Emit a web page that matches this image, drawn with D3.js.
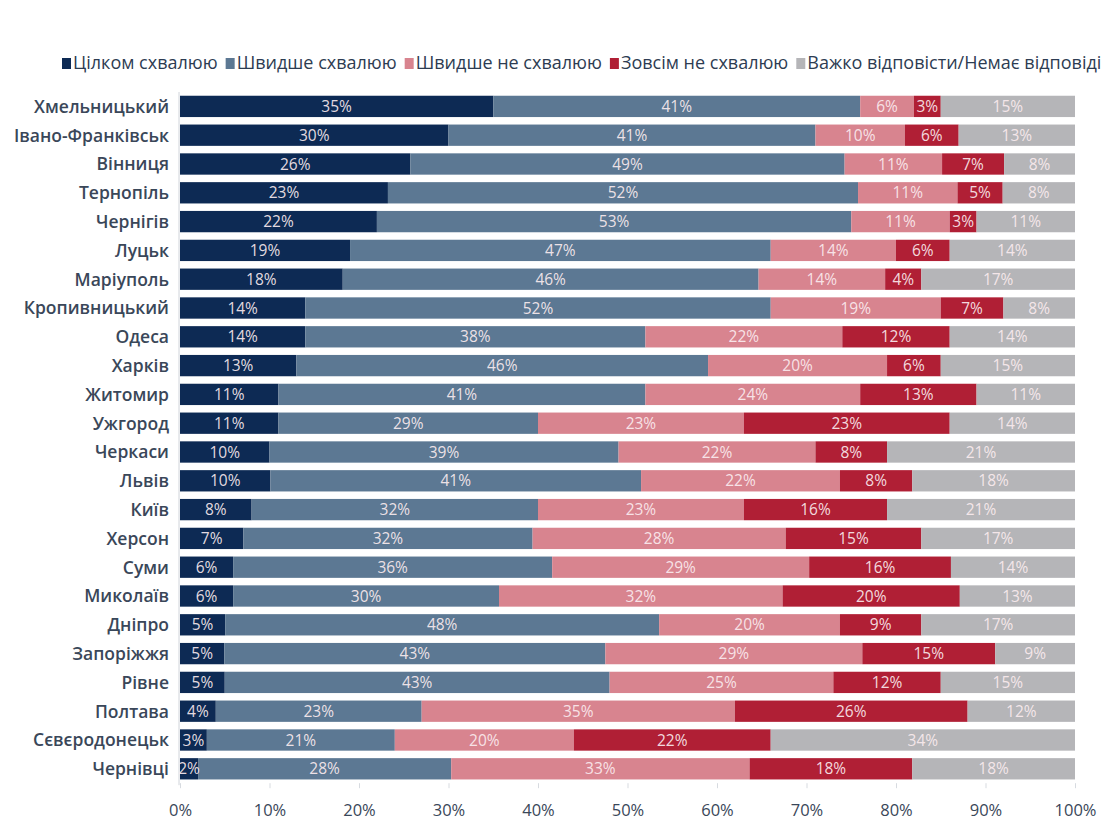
<!DOCTYPE html>
<html>
<head>
<meta charset="utf-8">
<script src="https://cdn.jsdelivr.net/npm/d3@7"></script>
<style>
  body { margin: 0; background: #fff; }
  svg { display: block; font-family: "Open Sans", sans-serif; }
</style>
</head>
<body>
<svg id="chart" width="1110" height="822"></svg>
<script>
// city approval stacked bars

const cities = ['Хмельницький', 'Івано-Франківськ', 'Вінниця', 'Тернопіль', 'Чернігів', 'Луцьк',
    'Маріуполь', 'Кропивницький', 'Одеса', 'Харків', 'Житомир', 'Ужгород', 'Черкаси', 'Львів',
    'Київ', 'Херсон', 'Суми', 'Миколаїв', 'Дніпро', 'Запоріжжя', 'Рівне', 'Полтава',
    'Сєвєродонецьк', 'Чернівці'];

const seriesNames = ['Цілком схвалюю', 'Швидше схвалюю', 'Швидше не схвалюю', 'Зовсім не схвалюю',
    'Важко відповісти/Немає відповіді'];

const fullyApprove = [35, 30, 26, 23, 22, 19, 18, 14, 14, 13, 11, 11, 10, 10, 8, 7, 6, 6, 5, 5, 5, 4, 3, 2];
const ratherApprove = [41, 41, 49, 52, 53, 47, 46, 52, 38, 46, 41, 29, 39, 41, 32, 32, 36, 30, 48, 43, 43, 23, 21, 28];
const ratherNot = [6, 10, 11, 11, 11, 14, 14, 19, 22, 20, 24, 23, 22, 22, 23, 28, 29, 32, 20, 29, 25, 35, 20, 33];
const notAtAll = [3, 6, 7, 5, 3, 6, 4, 7, 12, 6, 13, 23, 8, 8, 16, 15, 16, 20, 9, 15, 12, 26, 22, 18];
const hardToSay = [15, 13, 8, 8, 11, 14, 17, 8, 14, 15, 11, 14, 21, 18, 21, 17, 14, 13, 17, 9, 15, 12, 34, 18];

const xTicks = [0, 10, 20, 30, 40, 50, 60, 70, 80, 90, 100];

const colors = ['#0d2a54', '#5c7893', '#d8848f', '#b01f35', '#b5b5b8'];

(function () {
    const svg = d3.select('#chart');
    const margin = { top: 92, left: 180, right: 35, bottom: 40 };
    const plotW = 1075 - margin.left;
    const step = 28.8;
    const plotH = step * cities.length;

    const allSeries = [fullyApprove, ratherApprove, ratherNot, notAtAll, hardToSay];
    const rows = cities.map((c, i) => {
        const r = { city: c };
        seriesNames.forEach((s, k) => { r[s] = allSeries[k][i]; });
        return r;
    });

    const stacked = d3.stack().keys(seriesNames).offset(d3.stackOffsetExpand)(rows);

    const x = d3.scaleLinear().domain([0, 1]).range([margin.left, margin.left + plotW]);
    const y = d3.scaleBand().domain(cities).range([margin.top, margin.top + plotH]).paddingInner(0.26).paddingOuter(0.13);
    const color = d3.scaleOrdinal().domain(seriesNames).range(colors);

    // Legend
    const legend = svg.append('g').attr('transform', 'translate(62,63)');
    let lx = 0;
    seriesNames.forEach(name => {
        const g = legend.append('g').attr('transform', `translate(${lx},0)`);
        g.append('rect').attr('x', 0).attr('y', -5).attr('width', 9).attr('height', 11).attr('fill', color(name));
        const t = g.append('text')
            .attr('x', 11).attr('y', 0).attr('dy', '0.35em')
            .attr('font-size', 18).attr('fill', '#2d3c52')
            .text(name);
        lx += 11 + t.node().getComputedTextLength() + 8;
    });

    // left axis line
    svg.append('line')
        .attr('x1', margin.left - 1).attr('x2', margin.left - 1)
        .attr('y1', margin.top).attr('y2', margin.top + plotH + 2)
        .attr('stroke', '#d0d4da');

    // Bars
    const layer = svg.append('g').selectAll('g')
        .data(stacked)
        .join('g')
        .attr('fill', d => color(d.key));

    layer.selectAll('rect')
        .data(d => d)
        .join('rect')
        .attr('x', d => x(d[0]))
        .attr('y', d => y(d.data.city))
        .attr('width', d => x(d[1]) - x(d[0]))
        .attr('height', y.bandwidth());

    // Value labels
    svg.append('g').selectAll('g')
        .data(stacked)
        .join('g')
        .selectAll('text')
        .data(d => d.map(p => ({ p, key: d.key })))
        .join('text')
        .attr('x', d => (x(d.p[0]) + x(d.p[1])) / 2)
        .attr('y', d => y(d.p.data.city) + y.bandwidth() / 2)
        .attr('dy', '0.36em')
        .attr('text-anchor', 'middle')
        .attr('font-size', 15.5)
        .attr('fill', '#fbecef')
        .attr('fill-opacity', 0.92)
        .text(d => d.p.data[d.key] + '%');

    // City labels
    svg.append('g').selectAll('text')
        .data(cities)
        .join('text')
        .attr('x', margin.left - 11)
        .attr('y', d => y(d) + y.bandwidth() / 2)
        .attr('dy', '0.36em')
        .attr('text-anchor', 'end')
        .attr('font-size', 17.5)
        .attr('font-weight', 600)
        .attr('fill', '#3a4759')
        .text(d => d);

    // X axis
    const xAxis = d3.axisBottom(d3.scaleLinear().domain([0, 100]).range([margin.left, margin.left + plotW]))
        .tickValues(xTicks)
        .tickFormat(d => d + '%')
        .tickSize(5)
        .tickPadding(16);

    const ax = svg.append('g')
        .attr('transform', `translate(0,${margin.top + plotH})`)
        .call(xAxis);
    ax.select('.domain').remove();
    ax.selectAll('line').attr('stroke', '#d7dbe0');
    ax.selectAll('text')
        .attr('font-size', 16.5)
        .attr('font-family', '"Open Sans", sans-serif')
        .attr('fill', '#3a4759');
})();
</script>
</body>
</html>
